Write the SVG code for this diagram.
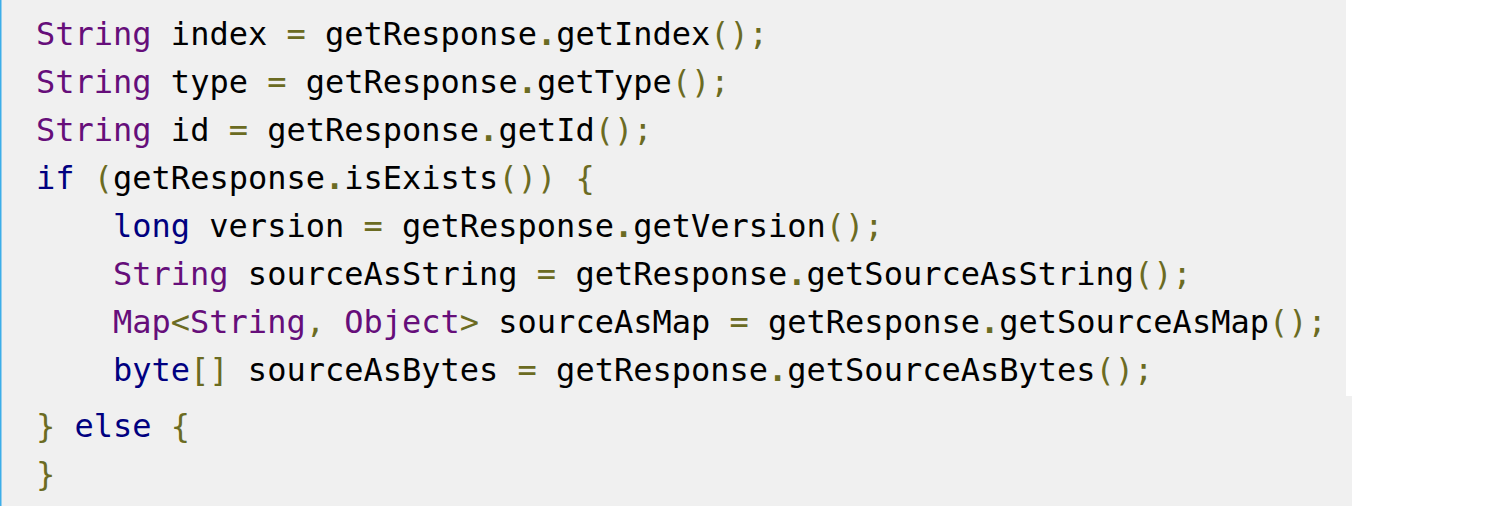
<svg xmlns="http://www.w3.org/2000/svg" width="1494" height="506" viewBox="0 0 1494 506">
<style>
text{font-family:"DejaVu Sans Mono","Liberation Mono",monospace;font-size:32px;fill:#000000;white-space:pre}
.t{fill:#660e7a}
.k{fill:#000080}
.p{fill:#6b6b22}
.d{fill:#6b6b22;font-weight:bold}
</style>
<rect x="0" y="0" width="1494" height="506" fill="#ffffff"/>
<rect x="0" y="0" width="1346" height="396" fill="#f0f0f0"/>
<rect x="0" y="396" width="1352" height="110" fill="#f0f0f0"/>
<rect x="0" y="0" width="1.5" height="506" fill="#3daee9"/>
<g id="code" xml:space="preserve">
<text x="36" y="45"><tspan class="t">String</tspan> index <tspan class="p">=</tspan> getResponse<tspan class="d">.</tspan>getIndex<tspan class="p">();</tspan></text>
<text x="36" y="93"><tspan class="t">String</tspan> type <tspan class="p">=</tspan> getResponse<tspan class="d">.</tspan>getType<tspan class="p">();</tspan></text>
<text x="36" y="141"><tspan class="t">String</tspan> id <tspan class="p">=</tspan> getResponse<tspan class="d">.</tspan>getId<tspan class="p">();</tspan></text>
<text x="36" y="189"><tspan class="k">if</tspan> <tspan class="p">(</tspan>getResponse<tspan class="d">.</tspan>isExists<tspan class="p">())</tspan> <tspan class="p">{</tspan></text>
<text x="113" y="237"><tspan class="k">long</tspan> version <tspan class="p">=</tspan> getResponse<tspan class="d">.</tspan>getVersion<tspan class="p">();</tspan></text>
<text x="113" y="285"><tspan class="t">String</tspan> sourceAsString <tspan class="p">=</tspan> getResponse<tspan class="d">.</tspan>getSourceAsString<tspan class="p">();</tspan></text>
<text x="113" y="333"><tspan class="t">Map</tspan><tspan class="p">&lt;</tspan><tspan class="t">String</tspan><tspan class="p">,</tspan> <tspan class="t">Object</tspan><tspan class="p">&gt;</tspan> sourceAsMap <tspan class="p">=</tspan> getResponse<tspan class="d">.</tspan>getSourceAsMap<tspan class="p">();</tspan></text>
<text x="113" y="381"><tspan class="k">byte</tspan><tspan class="p">[]</tspan> sourceAsBytes <tspan class="p">=</tspan> getResponse<tspan class="d">.</tspan>getSourceAsBytes<tspan class="p">();</tspan></text>
<text x="36" y="437"><tspan class="p">}</tspan> <tspan class="k">else</tspan> <tspan class="p">{</tspan></text>
<text x="36" y="485"><tspan class="p">}</tspan></text>
</g>
</svg>
